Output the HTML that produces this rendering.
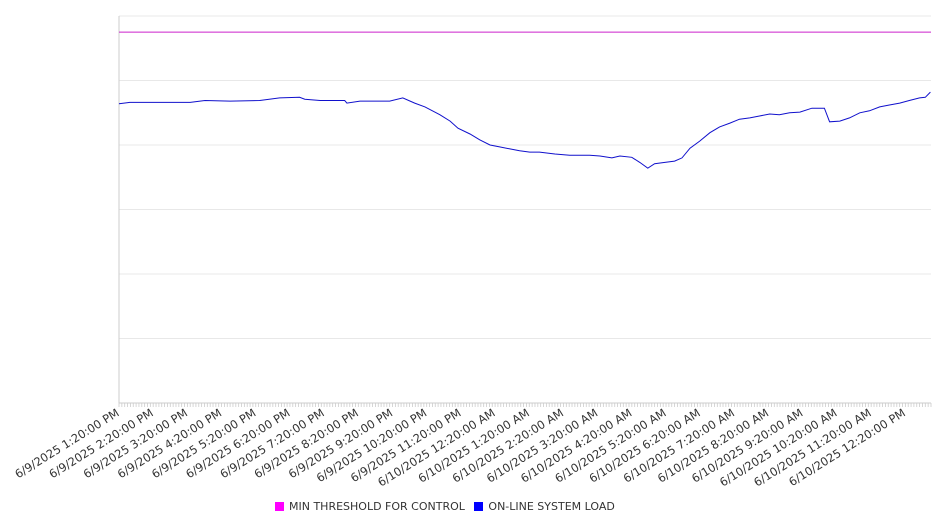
<!DOCTYPE html>
<html><head><meta charset="utf-8"><style>
body{margin:0;background:#fff;font-family:"Liberation Sans","DejaVu Sans",sans-serif;}
svg text{font-family:"DejaVu Sans","Liberation Sans",sans-serif;}
</style></head><body>
<svg id="chart" width="946" height="526" xmlns="http://www.w3.org/2000/svg"></svg>
<script>
const tickLabels=["6/9/2025 1:20:00 PM","6/9/2025 2:20:00 PM","6/9/2025 3:20:00 PM","6/9/2025 4:20:00 PM","6/9/2025 5:20:00 PM","6/9/2025 6:20:00 PM","6/9/2025 7:20:00 PM","6/9/2025 8:20:00 PM","6/9/2025 9:20:00 PM","6/9/2025 10:20:00 PM","6/9/2025 11:20:00 PM","6/10/2025 12:20:00 AM","6/10/2025 1:20:00 AM","6/10/2025 2:20:00 AM","6/10/2025 3:20:00 AM","6/10/2025 4:20:00 AM","6/10/2025 5:20:00 AM","6/10/2025 6:20:00 AM","6/10/2025 7:20:00 AM","6/10/2025 8:20:00 AM","6/10/2025 9:20:00 AM","6/10/2025 10:20:00 AM","6/10/2025 11:20:00 AM","6/10/2025 12:20:00 PM"];
const loadMinutes=[0,19,54,89,125,151,195,247,282,317,326,353,396,400,423,475,498,519,537,563,581,595,616,633,651,668,686,703,721,738,765,791,826,844,865,879,900,914,928,940,958,975,988,1002,1019,1037,1054,1072,1089,1107,1124,1142,1159,1177,1195,1216,1238,1247,1265,1282,1300,1317,1335,1352,1370,1387,1405,1415,1424];
const loadValues=[464,466,466,466,466,469,468,469,473,474,471,469,469,465,468,468,473,465,459,447,437,426,417,408,400,397,394,391,389,389,386,384,384,383,380,383,381,373,364,371,373,375,380,395,406,419,428,434,440,442,445,448,447,450,451,457,457,436,437,442,450,453,459,462,465,469,473,474,482];
const thresholdValue=575;
const yMax=600, yStep=100, xMaxMinutes=1425;
const L=119,R=931,T=16,B=403;
const X=m=>L+(m/xMaxMinutes)*(R-L);
const Y=v=>B-(v/yMax)*(B-T);
const NS="http://www.w3.org/2000/svg";
const svg=document.getElementById('chart');
function mk(t,a){const e=document.createElementNS(NS,t);for(const k in a)e.setAttribute(k,a[k]);svg.appendChild(e);return e;}
for(let v=0;v<=yMax;v+=yStep){
  const g=mk('line',{x1:L,x2:R,y1:Y(v),y2:Y(v),stroke:'#e8e8e8','stroke-width':1});
  
  
}
const ya=mk('line',{x1:L,x2:L,y1:T,y2:B,stroke:'#ccc','stroke-width':1});


const xa=mk('line',{x1:L,x2:R,y1:B,y2:B,stroke:'#ccc','stroke-width':1});


for(let m=0;m<=xMaxMinutes;m+=5){
  const t=mk('line',{x1:X(m),x2:X(m),y1:B,y2:B+4,stroke:'#ccc','stroke-width':0.8});
  
  
}
tickLabels.forEach((s,i)=>{
  const x=X(i*60)+1;
  const t=mk('text',{x:x,y:B+12,'text-anchor':'end','font-size':11.5,fill:'#333',transform:`rotate(-32 ${x} ${B+12})`});
  t.textContent=s;
  
  
});
const th=mk('line',{x1:L,x2:R,y1:Y(thresholdValue),y2:Y(thresholdValue),stroke:'#cc22cc','stroke-width':1});


const pts=loadMinutes.map((m,i)=>X(m).toFixed(1)+','+Y(loadValues[i]).toFixed(1)).join(' ');
const pl=mk('polyline',{points:pts,fill:'none',stroke:'#1010cc','stroke-width':1});


</script>
<div style="position:absolute;left:275px;top:500px;white-space:nowrap;font-size:11px;color:#333;font-family:'DejaVu Sans','Liberation Sans',sans-serif;">
<span><span style="display:inline-block;width:9px;height:9px;background:#ff00ff;vertical-align:-1px;margin-right:5px"></span>MIN THRESHOLD FOR CONTROL</span>
<span style="margin-left:6px"><span style="display:inline-block;width:9px;height:9px;background:#0000ff;vertical-align:-1px;margin-right:5px"></span>ON-LINE SYSTEM LOAD</span>
</div>
</body></html>
